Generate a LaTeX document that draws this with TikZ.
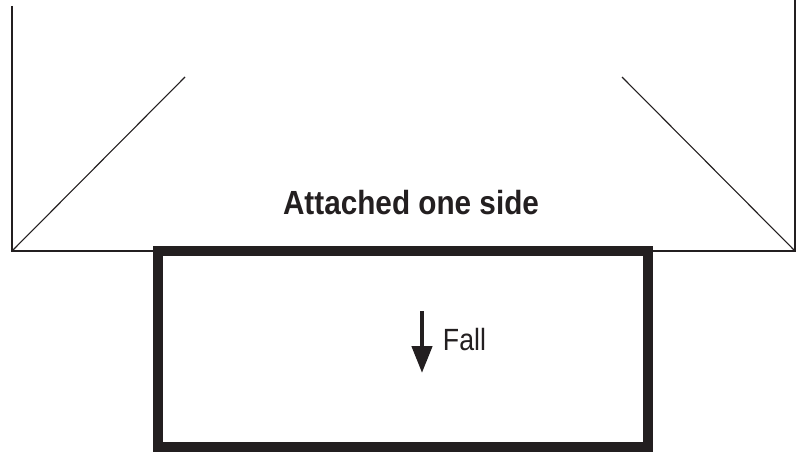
\documentclass[tikz,border=0pt]{standalone}
\usepackage{fontspec}
\setmainfont{Liberation Sans}
\newfontfamily\condfont[FakeStretch=0.887]{Liberation Sans}
\newfontfamily\condregfont[FakeStretch=0.87]{Liberation Sans}
\usetikzlibrary{arrows.meta}
\definecolor{ink}{HTML}{231F20}
\tikzset{
  thinline/.style={draw=ink, line width=1.1pt},
  framebox/.style={draw=ink, line width=10pt, inner sep=0pt},
  title/.style={inner sep=0pt, anchor=base, text=ink, font=\condfont\bfseries\fontsize{33.5}{36}\selectfont},
  label/.style={inner sep=0pt, anchor=base, text=ink, font=\condregfont\fontsize{30.7}{33}\selectfont},
  fallarrow/.style={draw=ink, line width=4.6pt, -{Triangle[width=20pt,length=27pt]}}
}
\begin{document}
\begin{tikzpicture}[x=1pt,y=-1pt]
\useasboundingbox (0,0) rectangle (798,452);
% outline of the upper shape
\coordinate (lt) at (12,6);
\coordinate (lb) at (12,251);
\coordinate (ld) at (185,77);
\coordinate (rt) at (795,0);
\coordinate (rb) at (795,251);
\coordinate (rd) at (622,77);
\draw[thinline] (lt) -- (lb) -- (rb) -- (rt);
\draw[thinline] (lb) -- (ld);
\draw[thinline] (rb) -- (rd);
% the falling panel
\node[framebox, minimum width=490pt, minimum height=196pt] (box) at (403,349) {};
\node[title] (t) at (411,214) {Attached one side};
\coordinate (a1) at (422,311);
\coordinate (a2) at (422,373);
\draw[fallarrow] (a1) -- (a2);
\node[label] (fall) at (464.5,350) {Fall};
\end{tikzpicture}
\end{document}
